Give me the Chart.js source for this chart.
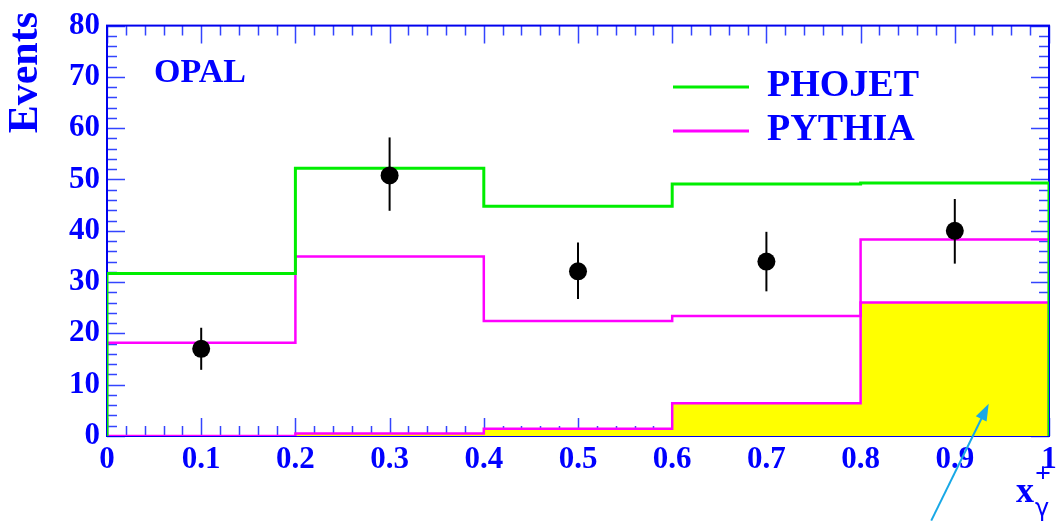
<!DOCTYPE html>
<html>
<head>
<meta charset="utf-8">
<script src="https://cdn.jsdelivr.net/npm/chart.js@4/dist/chart.umd.min.js"></script>
<style>
  html, body { margin: 0; padding: 0; background: #fff; }
  #wrap { width: 1058px; height: 522px; }
</style>
</head>
<body>
<div id="wrap"><canvas id="c" width="1058" height="522"></canvas></div>
<script>
// ---------- data ----------
const binEdges     = [0, 0.2, 0.4, 0.6, 0.8, 1.0];
const phojet       = [31.7, 52.2, 44.8, 49.1, 49.3];
const pythia       = [18.2, 35.0, 22.4, 23.4, 38.3];
const pythiaShaded = [0, 0.5, 1.4, 6.4, 26.0];

const dataX    = [0.1, 0.3, 0.5, 0.7, 0.9];
const dataY    = [17.0, 50.8, 32.1, 34.0, 40.0];
const errLow   = [12.9, 43.9, 26.7, 28.2, 33.6];
const errHigh  = [21.1, 58.2, 37.7, 39.8, 46.2];

const legendNames = ['PHOJET', 'PYTHIA'];
// arrow annotation, in data units: tail -> head
const arrowTail = {x: 0.875, y: -16.5};
const arrowHead = {x: 0.936, y: 6.3};

const BLUE = '#0000ff';
const GREEN = '#00ee00';
const MAGENTA = '#ff00ff';
const SERIF = '"Liberation Serif", "DejaVu Serif", serif';

// histogram outline: straight segments through bin edges
function histPoints(vals){
  const pts = [{x: binEdges[0], y: 0}];
  vals.forEach((v, i) => {
    pts.push({x: binEdges[i], y: v});
    pts.push({x: binEdges[i + 1], y: v});
  });
  pts.push({x: binEdges[binEdges.length - 1], y: 0});
  return pts;
}

// ---------- frame + inward ticks (ROOT style) ----------
const framePlugin = {
  id: 'frame',
  beforeDatasetsDraw(chart){
    const {ctx, chartArea: a, scales: {x, y}} = chart;
    ctx.save();
    ctx.strokeStyle = '#3344ff';
    ctx.lineWidth = 1.5;
    // x ticks, bottom and top
    for (let i = 0; i <= 50; i++){
      const px = Math.round(x.getPixelForValue(i / 50)) + 0.5;
      const len = i % 5 === 0 ? 18 : 10;
      ctx.beginPath();
      ctx.moveTo(px, a.bottom); ctx.lineTo(px, a.bottom - len);
      ctx.moveTo(px, a.top);    ctx.lineTo(px, a.top + len);
      ctx.stroke();
    }
    // y ticks, left and right
    for (let v = 0; v <= 80; v += 2){
      const py = Math.round(y.getPixelForValue(v)) + 0.5;
      const len = v % 10 === 0 ? 18 : 10;
      ctx.beginPath();
      ctx.moveTo(a.left, py);  ctx.lineTo(a.left + len, py);
      ctx.moveTo(a.right, py); ctx.lineTo(a.right - len, py);
      ctx.stroke();
    }
    ctx.strokeStyle = '#0000ee';
    ctx.lineWidth = 2;
    ctx.strokeRect(a.left, a.top, a.right - a.left, a.bottom - a.top);
    ctx.restore();
  },
  afterDatasetsDraw(chart){
    const {ctx, scales: {x, y}} = chart;
    ctx.save();
    // error bars
    ctx.strokeStyle = '#000';
    ctx.lineWidth = 2;
    dataX.forEach((xv, i) => {
      const px = x.getPixelForValue(xv);
      ctx.beginPath();
      ctx.moveTo(px, y.getPixelForValue(errLow[i]));
      ctx.lineTo(px, y.getPixelForValue(errHigh[i]));
      ctx.stroke();
    });

    // legend
    const cols = [GREEN, MAGENTA];
    ctx.font = 'bold 38px ' + SERIF;
    ctx.textBaseline = 'alphabetic';
    ctx.textAlign = 'left';
    legendNames.forEach((n, i) => {
      const ly = 87 + i * 44;
      ctx.strokeStyle = cols[i];
      ctx.lineWidth = 3;
      ctx.beginPath(); ctx.moveTo(673, ly); ctx.lineTo(749, ly); ctx.stroke();
      ctx.fillStyle = BLUE;
      ctx.fillText(n, 767, ly + 9);
    });

    // OPAL label
    ctx.font = 'bold 34px ' + SERIF;
    ctx.fillText('OPAL', 154, 82);

    // y-axis title
    ctx.save();
    ctx.translate(37, 12);
    ctx.rotate(-Math.PI / 2);
    ctx.textAlign = 'right';
    ctx.font = 'bold 42px ' + SERIF;
    ctx.fillText('Events', 0, 0);
    ctx.restore();

    // x-axis title  x_gamma^+
    ctx.font = 'bold 36px ' + SERIF;
    ctx.fillText('x', 1016, 502);
    ctx.font = 'bold 28px ' + SERIF;
    ctx.fillText('+', 1035, 482);
    ctx.font = '24px "DejaVu Sans", sans-serif';
    ctx.fillText('γ', 1035, 516);

    // arrow
    const tx = x.getPixelForValue(arrowTail.x), ty = y.getPixelForValue(arrowTail.y);
    const hx = x.getPixelForValue(arrowHead.x), hy = y.getPixelForValue(arrowHead.y);
    const ang = Math.atan2(hy - ty, hx - tx);
    ctx.strokeStyle = '#18a8e6';
    ctx.fillStyle = '#18a8e6';
    ctx.lineWidth = 2;
    ctx.beginPath(); ctx.moveTo(tx, ty);
    ctx.lineTo(hx - 12 * Math.cos(ang), hy - 12 * Math.sin(ang)); ctx.stroke();
    ctx.beginPath();
    ctx.moveTo(hx, hy);
    ctx.lineTo(hx - 17 * Math.cos(ang) + 6 * Math.sin(ang), hy - 17 * Math.sin(ang) - 6 * Math.cos(ang));
    ctx.lineTo(hx - 17 * Math.cos(ang) - 6 * Math.sin(ang), hy - 17 * Math.sin(ang) + 6 * Math.cos(ang));
    ctx.closePath(); ctx.fill();
    ctx.restore();
  }
};

const tickFont = {family: SERIF, size: 31, weight: 'bold'};

new Chart(document.getElementById('c'), {
  type: 'line',
  data: {
    datasets: [
      {
        type: 'scatter',
        data: dataX.map((xv, i) => ({x: xv, y: dataY[i]})),
        pointRadius: 9, pointBackgroundColor: '#000', pointBorderColor: '#000',
        pointBorderWidth: 0
      },
      { data: histPoints(phojet), borderColor: GREEN, borderWidth: 3, pointRadius: 0, fill: false, tension: 0 },
      { data: histPoints(pythia), borderColor: MAGENTA, borderWidth: 2.5, pointRadius: 0, fill: false, tension: 0 },
      { data: histPoints(pythiaShaded), borderColor: MAGENTA, borderWidth: 2.5, pointRadius: 0,
        fill: 'origin', backgroundColor: '#ffff00', tension: 0 }
    ]
  },
  options: {
    responsive: false,
    animation: false,
    devicePixelRatio: 1,
    parsing: false,
    layout: { padding: {top: 22, right: 0, left: 0, bottom: 0} },
    plugins: { legend: {display: false}, tooltip: {enabled: false} },
    scales: {
      x: {
        type: 'linear', min: 0, max: 1,
        grid: {display: false, drawTicks: false}, border: {display: false},
        ticks: { stepSize: 0.1, color: BLUE, font: tickFont, padding: 5, maxRotation: 0, autoSkip: false,
                 callback: v => String(+v.toFixed(1)) },
        afterFit: s => { s.height = 86; s.paddingRight = 8; s.paddingLeft = 0; }
      },
      y: {
        type: 'linear', min: 0, max: 80,
        grid: {display: false, drawTicks: false}, border: {display: false},
        ticks: { stepSize: 10, color: BLUE, font: tickFont, padding: 7 },
        afterFit: s => { s.width = 107; }
      }
    }
  },
  plugins: [framePlugin]
});
</script>
</body>
</html>
